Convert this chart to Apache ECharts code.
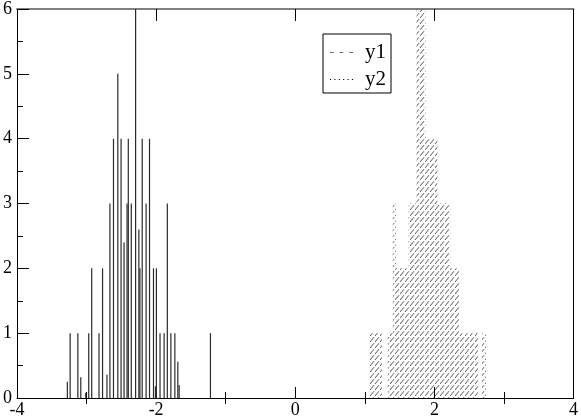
<!DOCTYPE html>
<html>
<head>
<meta charset="utf-8">
<script src="https://cdn.jsdelivr.net/npm/echarts@6/dist/echarts.min.js"></script>
<style>
  html, body { margin: 0; padding: 0; background: #fff; }
  #chart { width: 581px; height: 419px; }
</style>
</head>
<body>
<div id="chart"></div>
<script>
// y2: thin spikes, [x, count]
var y2X = [-3.276, -3.236, -3.125, -3.083, -3.011, -2.969, -2.926, -2.821, -2.770, -2.707,
           -2.664, -2.613, -2.551, -2.504, -2.461, -2.418, -2.400, -2.357, -2.295, -2.248,
           -2.233, -2.200, -2.144, -2.095, -2.038, -2.010, -1.996, -1.944, -1.885, -1.839,
           -1.788, -1.731, -1.688, -1.669, -1.219];
var y2H = [0.25, 1, 1, 0.32, 0.08, 1, 2, 1, 2, 0.36,
           3, 4, 5, 4, 2.4, 3, 4, 3, 6, 2.6,
           2, 4, 3, 4, 2, 0.18, 2, 1, 1, 3,
           1, 1, 0.56, 0.2, 1];

// y1: hatched histogram bins
var y1Lo = [1.060, 1.331, 1.402, 1.445, 1.630, 1.744, 1.872, 2.043, 2.228, 2.356, 2.683];
var y1Hi = [1.246, 1.402, 1.445, 1.630, 1.744, 1.872, 2.043, 2.228, 2.356, 2.626, 2.740];
var y1H  = [1, 1, 3, 2, 3, 6, 4, 3, 2, 1, 1];

var xMajor = [-4, -2, 0, 2, 4];
var xMinor = [-3, -1, 1, 3];

var serif = "'Times New Roman', 'Liberation Serif', Times, serif";

// dashed diagonal hatch tile
var tile = document.createElement('canvas');
tile.width = 5; tile.height = 6;
var tc = tile.getContext('2d');
tc.strokeStyle = '#555';
tc.lineWidth = 1;
tc.beginPath();
tc.moveTo(0, 6); tc.lineTo(4, 1.2);
tc.stroke();
var hatch = { image: tile, repeat: 'repeat' };

var y1Data = y1Lo.map(function (lo, i) { return [lo, y1Hi[i], y1H[i]]; });
var y2Data = y2X.map(function (x, i) { return [x, y2H[i]]; });

function extraX(pos, ticks, len, lineStyle) {
  return {
    type: 'value', position: pos, min: -4, max: 4,
    axisLine: lineStyle ? { show: true, onZero: false, lineStyle: lineStyle } : { show: false },
    axisTick: { show: true, inside: true, length: len, customValues: ticks, lineStyle: { color: '#000' } },
    axisLabel: { show: false }, splitLine: { show: false }
  };
}

var chart = echarts.init(document.getElementById('chart'));
chart.setOption({
  animation: false,
  grid: { left: 14, right: 5, top: 5, bottom: 19 },
  legend: {
    left: 323, top: 34, orient: 'vertical',
    borderColor: '#000', borderWidth: 1, backgroundColor: '#fff',
    padding: [8, 5, 3, 7], itemGap: 6, itemWidth: 23, itemHeight: 2,
    textStyle: { fontFamily: serif, fontSize: 21, color: '#000', padding: [0, 0, 0, 7] },
    data: [
      { name: 'y1', icon: 'path://M0,0h3v1h-3z M8,0h3v1h-3z M16,0h3v1h-3z', itemStyle: { color: '#666' } },
      { name: 'y2', icon: 'path://M0,0h1v1h-1z M4,0h1v1h-1z M8,0h1v1h-1z M12,0h1v1h-1z M16,0h1v1h-1z M20,0h1v1h-1z', itemStyle: { color: '#000' } }
    ]
  },
  xAxis: [
    {
      type: 'value', position: 'bottom', min: -4, max: 4, interval: 2,
      axisLine: { show: true, onZero: false, lineStyle: { color: '#000', width: 1 } },
      axisTick: { show: true, inside: true, length: 11, lineStyle: { color: '#000' } },
      axisLabel: { fontFamily: serif, fontSize: 18, color: '#000', margin: 3 },
      splitLine: { show: false }
    },
    extraX('bottom', xMinor, 6, null),
    extraX('top', xMajor, 12, { color: '#808080', width: 2 }),
    extraX('top', xMinor, 6, null)
  ],
  yAxis: [
    {
      type: 'value', position: 'left', min: 0, max: 6, interval: 1,
      axisLine: { show: true, onZero: false, lineStyle: { color: '#000', width: 1 } },
      axisTick: { show: true, inside: true, length: 12, lineStyle: { color: '#000' } },
      minorTick: { show: true, splitNumber: 2, length: 6, lineStyle: { color: '#000' } },
      axisLabel: { fontFamily: serif, fontSize: 18, color: '#000', margin: 5 },
      splitLine: { show: false }
    },
    {
      type: 'value', position: 'right', min: 0, max: 6, interval: 1,
      axisLine: { show: true, onZero: false, lineStyle: { color: '#000', width: 1 } },
      axisTick: { show: false }, axisLabel: { show: false }, splitLine: { show: false }
    }
  ],
  series: [
    {
      name: 'y1', type: 'custom', xAxisIndex: 0, yAxisIndex: 0, clip: true,
      data: y1Data,
      encode: { x: [0, 1], y: 2 },
      renderItem: function (params, api) {
        var a = api.coord([api.value(0), api.value(2)]);
        var b = api.coord([api.value(1), 0]);
        return {
          type: 'rect',
          shape: { x: a[0], y: a[1], width: b[0] - a[0], height: b[1] - a[1] },
          style: { fill: hatch }
        };
      }
    },
    {
      name: 'y2', type: 'bar', xAxisIndex: 0, yAxisIndex: 0, barWidth: 1.2,
      itemStyle: { color: '#2a2a2a' },
      data: y2Data
    }
  ]
});
</script>
</body>
</html>
